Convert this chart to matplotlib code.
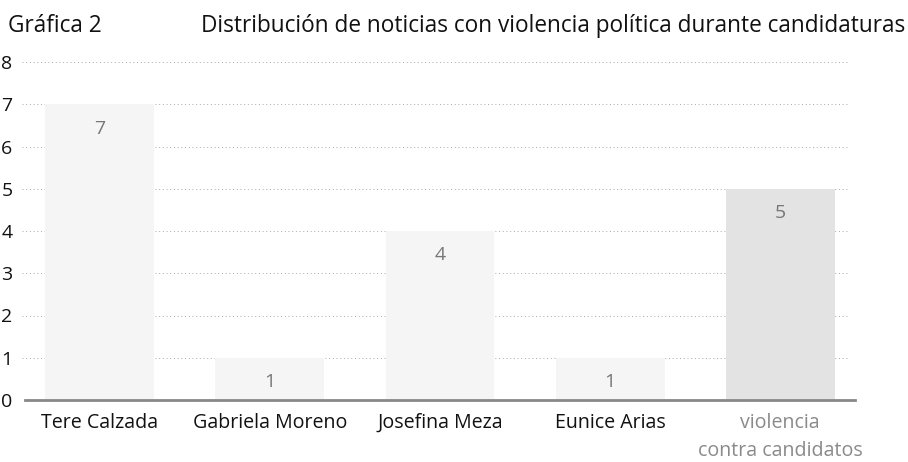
import matplotlib.pyplot as plt
import numpy as np

categories = ["Tere Calzada", "Gabriela Moreno", "Josefina Meza", "Eunice Arias",
              "violencia\ncontra candidatos"]
values = [7, 1, 4, 1, 5]
bar_colors = ["#f5f5f5", "#f5f5f5", "#f5f5f5", "#f5f5f5", "#e3e3e3"]
label_colors = ["#111111", "#111111", "#111111", "#111111", "#8a8a8a"]
yticks = [0, 1, 2, 3, 4, 5, 6, 7, 8]

plt.rcParams["font.family"] = ["Open Sans", "DejaVu Sans"]

fig = plt.figure(figsize=(9.08, 4.62), dpi=100)
W, H = 908, 462
ax = fig.add_axes([25 / W, 1 - 400 / H, (855 - 25) / W, (400 - 62) / H])

x = np.arange(len(categories))
ax.bar(x, values, width=0.64, color=bar_colors, zorder=2)
for xi, v in zip(x, values):
    ax.annotate(str(v), (xi, v), xytext=(0, -17.5), textcoords="offset points",
                ha="center", va="center", fontsize=14, color="#777777", zorder=3)

ax.set_xlim(-0.44, 4.44)
ax.set_ylim(0, 8)
ax.set_yticks(yticks)
ax.set_yticklabels([str(t) for t in yticks], fontsize=14, color="#111111")
ax.set_xticks(x)
ax.set_xticklabels(categories, fontsize=14.1, linespacing=1.5)
for lbl, c in zip(ax.get_xticklabels(), label_colors):
    lbl.set_color(c)
ax.tick_params(axis="both", length=0)
ax.tick_params(axis="y", pad=9)
ax.tick_params(axis="x", pad=9.5)

for yv in yticks[1:]:
    ax.axhline(yv, xmin=-0.004, xmax=0.992, color="#a8a8a8", lw=0.7,
               ls=(0, (1, 2.8)), zorder=1, clip_on=False)

for s in ["top", "right", "left"]:
    ax.spines[s].set_visible(False)
ax.spines["bottom"].set_color("#888888")
ax.spines["bottom"].set_linewidth(2)
ax.spines["bottom"].set_zorder(4)

fig.text(8 / W, 1 - 26 / H, "Gráfica 2", fontsize=16.3, va="center", ha="left", color="#111111")
fig.text(905 / W, 1 - 26 / H,
         "Distribución de noticias con violencia política durante candidaturas",
         fontsize=16.3, va="center", ha="right", color="#111111")

fig.savefig("out.png", dpi=100)
